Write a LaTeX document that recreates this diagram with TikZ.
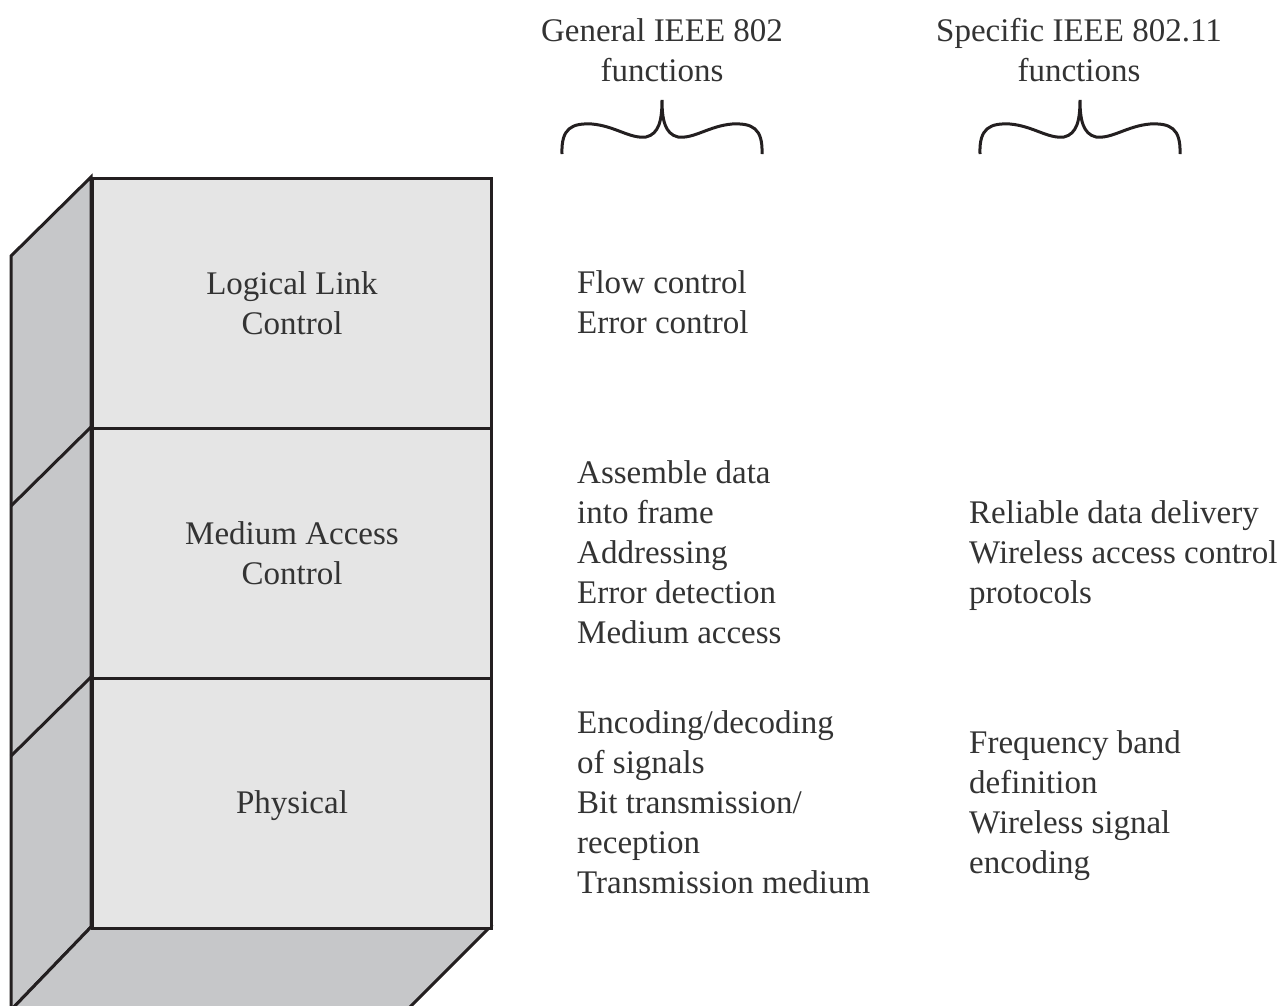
\documentclass[tikz,border=0pt]{standalone}
\usepackage{fontspec}
\setmainfont{Liberation Serif}
\definecolor{frontgray}{HTML}{E5E5E5}
\definecolor{sidegray}{HTML}{C6C7C9}
\definecolor{ink}{HTML}{231F20}
\definecolor{txt}{HTML}{333333}
\begin{document}
\begin{tikzpicture}[x=1pt,y=-1pt,
  edge/.style={draw=ink,line width=3pt,line join=miter},
  face/.style={edge,fill=frontgray},
  side/.style={edge,fill=sidegray},
  lbl/.style={text=txt,font=\fontsize{33}{40}\selectfont,inner sep=0pt},
  layertxt/.style={lbl,align=center},
  fn/.style={lbl,align=left,anchor=west},
  brace/.style={draw=ink,line width=3pt,line cap=butt}]
\useasboundingbox (0,0) rectangle (1285,1005);
% side and bottom faces
\path[side] (91,177) -- (11,256) -- (11,1010) -- (91,927) -- cycle;
\path[side] (91,927) -- (490,927) -- (407,1010) -- (11,1010) -- cycle;
\draw[edge] (91,427) -- (11,506);
\draw[edge] (91,677) -- (11,756);
% front faces
\node[face,minimum width=399pt,minimum height=250pt,anchor=north west,inner sep=0pt] (llc) at (91,177) {};
\node[face,minimum width=399pt,minimum height=250pt,anchor=north west,inner sep=0pt] (mac) at (91,427) {};
\node[face,minimum width=399pt,minimum height=250pt,anchor=north west,inner sep=0pt] (phy) at (91,677) {};
\node[layertxt] (llct) at (llc.center) {Logical Link\\Control};
\node[layertxt] (mact) at (mac.center) {Medium Access\\Control};
\node[layertxt] (phyt) at ([yshift=-2pt]phy.center) {Physical};
% headers
\node[layertxt] (hgen) at (662,50) {General IEEE 802\\functions};
\node[layertxt] (hspec) at (1079,50) {Specific IEEE 802.11\\functions};
% braces
\draw[brace] (562,154) .. controls (561,128) and (572,123) .. (592,124)
  .. controls (615,126) and (630,139) .. (646,137)
  .. controls (659,134) and (662,120) .. (662,100)
  .. controls (662,120) and (665,134) .. (678,137)
  .. controls (694,139) and (709,126) .. (732,124)
  .. controls (752,123) and (763,128) .. (762,154);
\draw[brace] (980,154) .. controls (979,128) and (990,123) .. (1010,124)
  .. controls (1033,126) and (1048,139) .. (1064,137)
  .. controls (1077,134) and (1080,120) .. (1080,100)
  .. controls (1080,120) and (1083,134) .. (1096,137)
  .. controls (1112,139) and (1127,126) .. (1150,124)
  .. controls (1170,123) and (1181,128) .. (1180,154);
% general functions
\node[fn] (g1) at (577,302) {Flow control\\Error control};
\node[fn] (g2) at (577,552) {Assemble data\\into frame\\Addressing\\Error detection\\Medium access};
\node[fn] (g3) at (577,802) {Encoding/decoding\\of signals\\Bit transmission/\\reception\\Transmission medium};
% specific functions
\node[fn] (s2) at (969,556) {Reliable data delivery\\Wireless access control\\protocols};
\node[fn] (s3) at (969,806) {Frequency band\\definition\\Wireless signal\\encoding};
\end{tikzpicture}
\end{document}
